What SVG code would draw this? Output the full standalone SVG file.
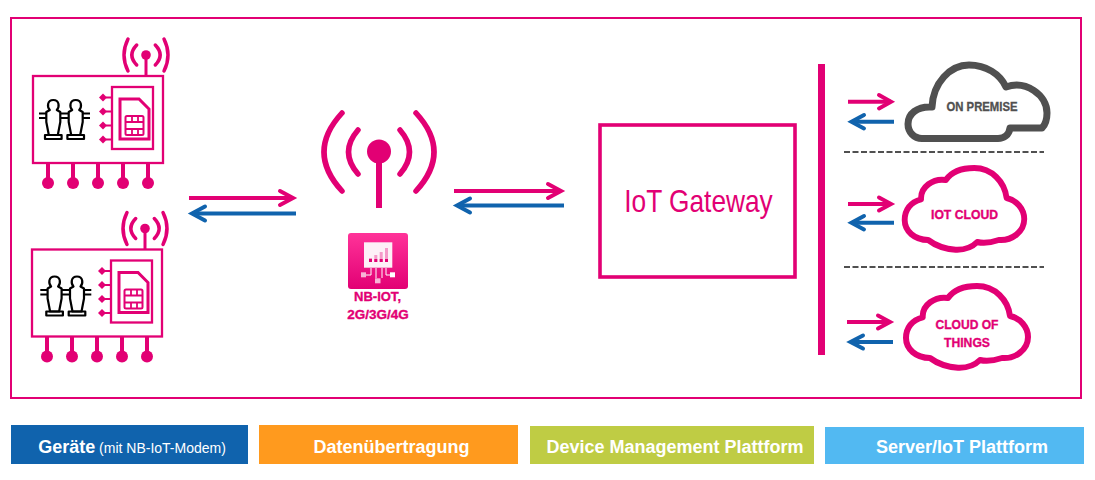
<svg xmlns="http://www.w3.org/2000/svg" width="1095" height="480" viewBox="0 0 1095 480">
<style>
.m{fill:none;stroke:#e20074;stroke-width:2.300}
.mf{fill:#e20074}
.t{font-family:"Liberation Sans",Arial,sans-serif;font-weight:bold;text-anchor:middle}
.leg{fill:#fff;font-size:18px}
.lbl{stroke-width:.35}
.cl{fill:none;stroke:#e20074;stroke-width:6;stroke-linejoin:round}
.ap{fill:none;stroke:#e20074;stroke-width:4}
.ab{fill:none;stroke:#1063ad;stroke-width:4}
.hd{stroke-linecap:round;stroke-linejoin:miter;fill:none}
.fig{fill:none;stroke:#000;stroke-width:2.200;stroke-linejoin:round}
</style>
<defs>
<g id="dev">
<rect class="m" x="33" y="76" width="130" height="87"/>
<path class="m" d="M146 55V76" style="stroke-width:3"/>
<circle class="mf" cx="146" cy="55" r="4.800"/>
<path class="m" style="stroke-width:3.500;stroke-linecap:round" d="M136.700 45Q127 55 136.700 65M155.300 45Q165 55 155.300 65M128 39Q120 55 128 71M164 39Q172 55 164 71"/>
<rect class="m" x="112" y="87" width="41" height="62"/>
<path class="m" d="M120 99H139L149 109V139H120Z" style="stroke-width:3"/>
<rect class="m" x="125.500" y="116" width="18" height="19" rx="1.500" style="stroke-width:2"/>
<path class="m" d="M125.500 122H143.500M125.500 129H143.500M132 116V122M138 116V122M132 129V135M138 129V135" style="stroke-width:1.800"/>
<path class="mf" d="M103 93.500L107 97.500L103 101.500L99 97.500ZM103 107.500L107 111.500L103 115.500L99 111.500ZM103 121.500L107 125.500L103 129.500L99 125.500ZM103 135.500L107 139.500L103 143.500L99 139.500Z"/>
<path class="m" d="M106 97.500H112M106 111.500H112M106 125.500H112M106 139.500H112" style="stroke-width:2"/>
<path class="m" d="M48 163V178M73 163V178M98 163V178M123 163V178M148 163V178" style="stroke-width:4"/>
<g class="mf"><circle cx="48" cy="183" r="6"/><circle cx="73" cy="183" r="6"/><circle cx="98" cy="183" r="6"/><circle cx="123" cy="183" r="6"/><circle cx="148" cy="183" r="6"/></g>
</g>
<g id="fig2" class="fig">
<path d="M49.800 110C47 107 47 100 53.300 100C59.600 100 59.600 107 56.800 110L60.300 112V122L57.800 135H48.800L46.300 122V112Z"/>
<path d="M45 135H61.600V139H45Z"/>
<path d="M39 113.500H46.300M39 118H46.300M60.300 113.500H68.700M60.300 118H68.700"/>
<path d="M72.200 110C69.400 107 69.400 100 75.700 100C82 100 82 107 79.200 110L82.700 112V122L80.200 135H71.200L68.700 122V112Z"/>
<path d="M67.400 135H84V139H67.400Z"/>
<path d="M82.700 113.500H90M82.700 118H90"/>
</g>
<linearGradient id="g" x1="0" y1="0" x2="0" y2="1"><stop offset="0" stop-color="#ff3399"/><stop offset="1" stop-color="#e20074"/></linearGradient>
</defs>
<rect width="1095" height="480" fill="#fff"/>
<rect id="frame" x="11" y="18" width="1070" height="380" fill="none" stroke="#e20074" stroke-width="2"/>
<g id="device-1"><use href="#dev"/><use href="#fig2"/></g>
<g id="device-2"><use href="#dev" transform="translate(-1 173.500)"/><use href="#fig2" transform="translate(1.300 176.500)"/></g>
<g id="tower">
<circle class="mf" cx="379" cy="151.500" r="12"/>
<path d="M379 160V208" fill="none" stroke="#e20074" stroke-width="6"/>
<path fill="none" stroke="#e20074" stroke-width="5.500" stroke-linecap="round" d="M358 130Q339 152 358 174M400 130Q419 152 400 174M342 113Q306 152 342 191M416 113Q452 152 416 191"/>
</g>
<g id="nbiot">
<rect x="348" y="233" width="60" height="56" rx="3" fill="url(#g)"/>
<rect x="364" y="242.300" width="28.300" height="25.400" fill="#fdf0f7"/>
<path fill="#f59ac9" d="M369 258h3v4h-3zM374.300 255h3v7h-3zM379.700 252h3v10h-3zM385 248h3v14h-3z"/>
<path fill="#e20074" d="M369 259h3v3h-3zM374.300 259h3v3h-3zM379.700 259h3v3h-3zM385 259h3v3h-3z"/>
<path fill="none" stroke="#fff" stroke-width="1" d="M366 275H371V268M376 268V278M382 268V278M386 268V275H390"/>
<rect x="361" y="272.300" width="5" height="5" fill="#f7b5d6"/><rect x="375" y="278.300" width="5.500" height="5" fill="#f7b5d6"/><rect x="390" y="272.300" width="5" height="5" fill="#fff"/>
<text class="t lbl" x="377.500" y="301" font-size="13.500" fill="#e20074" stroke="#e20074" textLength="47" lengthAdjust="spacingAndGlyphs">NB-IOT,</text>
<text class="t lbl" x="378" y="319" font-size="13.500" fill="#e20074" stroke="#e20074">2G/3G/4G</text>
</g>
<g id="gateway">
<rect x="600" y="125" width="195" height="152" fill="none" stroke="#e20074" stroke-width="3.600"/>
<text x="698.500" y="212" font-family="'Liberation Sans',Arial,sans-serif" font-size="32" fill="#e20074" text-anchor="middle" textLength="148.500" lengthAdjust="spacingAndGlyphs">IoT Gateway</text>
</g>
<g id="bus"><rect x="818" y="64" width="7" height="291" fill="#e20074"/></g>
<g id="dividers" stroke="#505050" stroke-width="2" stroke-dasharray="6 2.500">
<path d="M844 152H1044M844 267H1044"/>
</g>
<g id="cloud-premise">
<path fill="none" stroke="#505050" stroke-width="7" stroke-linejoin="round" d="M932 107C933 83 950 65 969 65C986 65 1000 74 1006 87C1026 80 1047 95 1047 113C1047 120 1045 125 1042 128H1010C1009 135 1004 138.500 998 138.500H922C914 138.500 908 132 908 124C908 114 917 106 932 107Z"/>
<text class="t lbl" x="982" y="111" font-size="13" fill="#505050" stroke="#505050" textLength="71" lengthAdjust="spacingAndGlyphs">ON PREMISE</text>
</g>
<g id="cloud-iot">
<path class="cl" transform="translate(16.800 -118) scale(.98 1)" d="M922.700 317.300C922 305 935 296 948 298C955 288 966 286 977 286C995 286 1008 300 1010 316C1020 318 1028 327 1028 337C1028 350 1015 359 1002 358C996 360 988 362 980 360C974 366 966 368 958 367.700C948 367 938 364 930 358C916 358 906 349 906 338C906 328 912 320 922.700 317.300Z"/>
<text class="t lbl" x="964.500" y="219" font-size="13" fill="#e20074" stroke="#e20074" textLength="67" lengthAdjust="spacingAndGlyphs">IOT CLOUD</text>
</g>
<g id="cloud-things">
<path class="cl" d="M922.700 317.300C922 305 935 296 948 298C955 288 966 286 977 286C995 286 1008 300 1010 316C1020 318 1028 327 1028 337C1028 350 1015 359 1002 358C996 360 988 362 980 360C974 366 966 368 958 367.700C948 367 938 364 930 358C916 358 906 349 906 338C906 328 912 320 922.700 317.300Z"/>
<text class="t lbl" x="967" y="329" font-size="13" fill="#e20074" stroke="#e20074" textLength="63" lengthAdjust="spacingAndGlyphs">CLOUD OF</text>
<text class="t lbl" x="967" y="346.700" font-size="13" fill="#e20074" stroke="#e20074" textLength="46" lengthAdjust="spacingAndGlyphs">THINGS</text>
</g>
<g id="connectors">
<g class="ap">
<path d="M189 198H293"/><path class="hd" d="M280 191L293 198L280 205"/>
<path d="M454 191H561"/><path class="hd" d="M548 184L561 191L548 198"/>
<path d="M848 101.700H891"/><path class="hd" d="M879 95L891 101.700L879 108.400"/>
<path d="M848 204H891"/><path class="hd" d="M879 197.500L891 204L879 210.500"/>
<path d="M847 322H890"/><path class="hd" d="M878 315.500L890 322L878 328.500"/>
</g>
<g class="ab">
<path d="M296 213.500H193"/><path class="hd" d="M205 206.500L192 213.500L205 220.500"/>
<path d="M564 205.500H458"/><path class="hd" d="M470 198.500L457 205.500L470 212.500"/>
<path d="M894 121.700H852"/><path class="hd" d="M864 115L851.500 121.700L864 128.400"/>
<path d="M894 222.700H852"/><path class="hd" d="M864 216L851.500 222.700L864 229.400"/>
<path d="M893 342H851"/><path class="hd" d="M863 335.500L850.500 342L863 348.500"/>
</g>
</g>
<g id="legend-devices"><rect x="11" y="425" width="237" height="39" fill="#1063ad"/><text class="t leg" x="132" y="453"><tspan>Geräte</tspan><tspan font-weight="normal" font-size="14"> (mit NB-IoT-Modem)</tspan></text></g>
<g id="legend-data"><rect x="259" y="425" width="259" height="39" fill="#ff9a1e"/><text class="t leg" x="391.500" y="453">Datenübertragung</text></g>
<g id="legend-device-mgmt"><rect x="530" y="426" width="284" height="38" fill="#bfcc44"/><text class="t leg" x="675" y="453">Device Management Plattform</text></g>
<g id="legend-server"><rect x="825" y="427" width="259" height="37" fill="#52b9f2"/><text class="t leg" x="962" y="453">Server/IoT Plattform</text></g>
</svg>
